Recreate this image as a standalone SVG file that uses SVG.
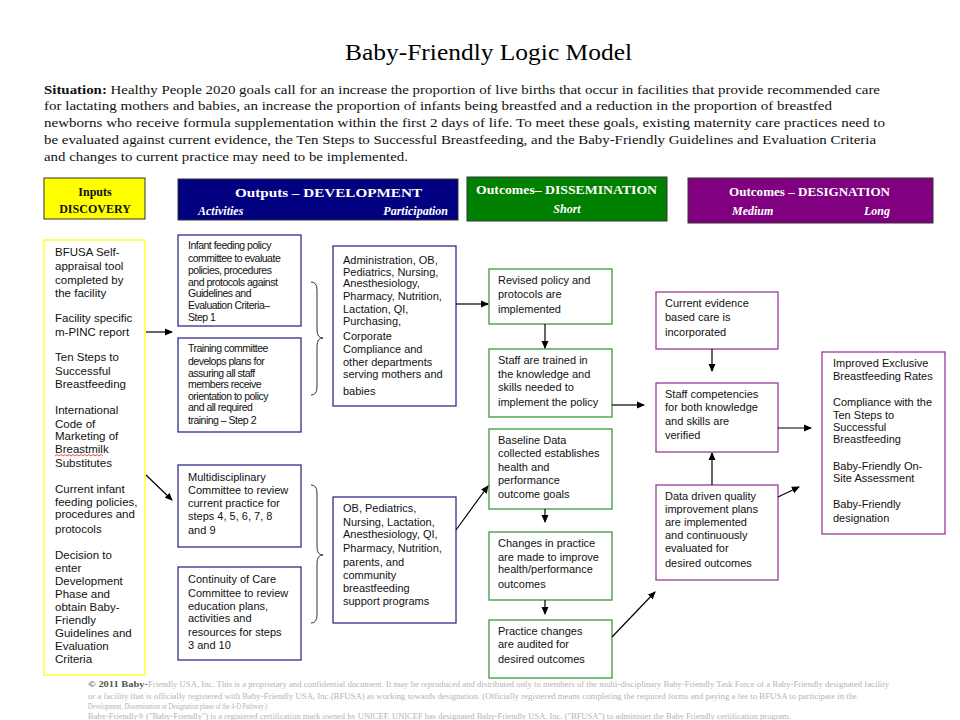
<svg xmlns="http://www.w3.org/2000/svg" width="960" height="720" viewBox="0 0 960 720">
<defs>
<marker id="ah" markerWidth="8" markerHeight="8" refX="7" refY="4" orient="auto" markerUnits="userSpaceOnUse">
<path d="M0,0.5 L8,4 L0,7.5 z" fill="#000"/>
</marker>
<style>
.t{font-family:"Liberation Sans",Arial,sans-serif;font-size:11px;fill:#111}
.tl{font-family:"Liberation Sans",Arial,sans-serif;font-size:11.5px;fill:#111}
.tc{font-family:"Liberation Sans",Arial,sans-serif;font-size:10.5px;letter-spacing:-0.5px;fill:#111}
.s{font-family:"Liberation Serif","Times New Roman",serif;font-size:12px;fill:#111}
.h{font-family:"Liberation Serif","Times New Roman",serif;font-size:12px;font-weight:bold;fill:#fff}
.hi{font-family:"Liberation Serif","Times New Roman",serif;font-size:12px;font-weight:bold;font-style:italic;fill:#fff}
.f{font-family:"Liberation Serif","Times New Roman",serif;font-size:7.5px;fill:#b4b4b4}
.bb{fill:#fff;stroke:#2e2e8c;stroke-width:1.3}
.gb{fill:#fff;stroke:#3a9a3a;stroke-width:1.3}
.pb{fill:#fff;stroke:#9a3a9a;stroke-width:1.3}
.con{stroke:#000;stroke-width:1.2;fill:none}
.br{stroke:#333;stroke-width:1;fill:none}
</style>
</defs>
<rect width="960" height="720" fill="#fff"/>

<g id="title">
<text x="345" y="60" font-family="Liberation Serif,'Times New Roman',serif" font-size="24" fill="#000" textLength="287" lengthAdjust="spacingAndGlyphs">Baby-Friendly Logic Model</text>
</g>

<g id="situation">
<text class="s" x="44" y="94" textLength="836" lengthAdjust="spacingAndGlyphs"><tspan font-weight="bold">Situation:</tspan>  Healthy People 2020 goals call for an increase the proportion of live births that occur in facilities that provide recommended care</text>
<text class="s" x="44" y="110" textLength="788" lengthAdjust="spacingAndGlyphs">for lactating mothers and babies, an increase the proportion of infants being breastfed and a reduction in the proportion of breastfed</text>
<text class="s" x="44" y="127" textLength="841" lengthAdjust="spacingAndGlyphs">newborns who receive formula supplementation within the first 2 days of life.  To meet these goals, existing maternity care practices need to</text>
<text class="s" x="44" y="144" textLength="832" lengthAdjust="spacingAndGlyphs">be evaluated against current evidence, the Ten Steps to Successful Breastfeeding, and the Baby-Friendly Guidelines and Evaluation Criteria</text>
<text class="s" x="44" y="161" textLength="364" lengthAdjust="spacingAndGlyphs">and changes to current practice may need to be implemented.</text>
</g>

<g id="hdr-inputs">
<rect x="44" y="178" width="101" height="41" fill="#ffff00" stroke="#333" stroke-width="1"/>
<text x="95" y="196" text-anchor="middle" font-family="Liberation Serif,serif" font-size="12" font-weight="bold" fill="#111">Inputs</text>
<text x="95" y="213" text-anchor="middle" font-family="Liberation Serif,serif" font-size="12" font-weight="bold" fill="#111">DISCOVERY</text>
</g>
<g id="hdr-outputs">
<rect x="178" y="179" width="280" height="41" fill="#000080" stroke="#333" stroke-width="1"/>
<text class="h" x="235" y="197" textLength="187" lengthAdjust="spacingAndGlyphs">Outputs – DEVELOPMENT</text>
<text class="hi" x="198" y="215">Activities</text>
<text class="hi" x="448" y="215" text-anchor="end">Participation</text>
</g>
<g id="hdr-short">
<rect x="467" y="177" width="200" height="44" fill="#008000" stroke="#333" stroke-width="1"/>
<text class="h" x="476" y="194" textLength="181" lengthAdjust="spacingAndGlyphs">Outcomes– DISSEMINATION</text>
<text class="hi" x="567" y="213" text-anchor="middle">Short</text>
</g>
<g id="hdr-designation">
<rect x="688" y="178" width="245" height="45" fill="#800080" stroke="#333" stroke-width="1"/>
<text class="h" x="729" y="196" textLength="161" lengthAdjust="spacingAndGlyphs">Outcomes – DESIGNATION</text>
<text class="hi" x="732" y="215">Medium</text>
<text class="hi" x="890" y="215" text-anchor="end">Long</text>
</g>

<g id="inputs">
<rect x="44" y="240" width="101" height="435" fill="#fff" stroke="#ffff33" stroke-width="1.5"/>
<text class="tl" x="55" y="256">BFUSA Self-</text>
<text class="tl" x="55" y="270">appraisal tool</text>
<text class="tl" x="55" y="283.5">completed by</text>
<text class="tl" x="55" y="297">the facility</text>
<text class="tl" x="55" y="322">Facility specific</text>
<text class="tl" x="55" y="336">m-PINC report</text>
<text class="tl" x="55" y="361">Ten  Steps to</text>
<text class="tl" x="55" y="375">Successful</text>
<text class="tl" x="55" y="388">Breastfeeding</text>
<text class="tl" x="55" y="414">International</text>
<text class="tl" x="55" y="428">Code of</text>
<text class="tl" x="55" y="440">Marketing of</text>
<text class="tl" x="55" y="453">Breastmilk</text>
<path d="M55,456 l2,-1.5 l2,1.5 l2,-1.5 l2,1.5 l2,-1.5 l2,1.5 l2,-1.5 l2,1.5 l2,-1.5 l2,1.5 l2,-1.5 l2,1.5 l2,-1.5 l2,1.5 l2,-1.5 l2,1.5 l2,-1.5 l2,1.5 l2,-1.5 l2,1.5 l2,-1.5 l2,1.5 l2,-1.5 l2,1.5" fill="none" stroke="#e02020" stroke-width="0.8"/>
<text class="tl" x="55" y="467">Substitutes</text>
<text class="tl" x="55" y="493">Current infant</text>
<text class="tl" x="55" y="506">feeding policies,</text>
<text class="tl" x="55" y="518">procedures and</text>
<text class="tl" x="55" y="533">protocols</text>
<text class="tl" x="55" y="559">Decision to</text>
<text class="tl" x="55" y="572">enter</text>
<text class="tl" x="55" y="585">Development</text>
<text class="tl" x="55" y="598">Phase and</text>
<text class="tl" x="55" y="611">obtain Baby-</text>
<text class="tl" x="55" y="624">Friendly</text>
<text class="tl" x="55" y="637">Guidelines and</text>
<text class="tl" x="55" y="650">Evaluation</text>
<text class="tl" x="55" y="663">Criteria</text>
</g>

<g id="act-policy">
<rect class="bb" x="178" y="235" width="123" height="91"/>
<text class="tc" x="188" y="249">Infant feeding policy</text>
<text class="tc" x="188" y="262">committee to evaluate</text>
<text class="tc" x="188" y="274">policies, procedures</text>
<text class="tc" x="188" y="286">and protocols against</text>
<text class="tc" x="188" y="297">Guidelines and</text>
<text class="tc" x="188" y="309">Evaluation Criteria–</text>
<text class="tc" x="188" y="321">Step 1</text>
</g>
<g id="act-training">
<rect class="bb" x="178" y="338" width="123" height="94"/>
<text class="tc" x="188" y="352">Training committee</text>
<text class="tc" x="188" y="365">develops plans for</text>
<text class="tc" x="188" y="377">assuring all staff</text>
<text class="tc" x="188" y="388">members receive</text>
<text class="tc" x="188" y="400">orientation to policy</text>
<text class="tc" x="188" y="411">and all required</text>
<text class="tc" x="188" y="424">training – Step 2</text>
</g>
<g id="act-multi">
<rect class="bb" x="178" y="465" width="123" height="82"/>
<text class="t" x="188" y="481">Multidisciplinary</text>
<text class="t" x="188" y="494">Committee to review</text>
<text class="t" x="188" y="507">current practice for</text>
<text class="t" x="188" y="520">steps 4, 5, 6, 7, 8</text>
<text class="t" x="188" y="534">and 9</text>
</g>
<g id="act-continuity">
<rect class="bb" x="178" y="567" width="123" height="93"/>
<text class="t" x="188" y="583">Continuity of Care</text>
<text class="t" x="188" y="597">Committee to review</text>
<text class="t" x="188" y="610">education plans,</text>
<text class="t" x="188" y="622">activities and</text>
<text class="t" x="188" y="636">resources for steps</text>
<text class="t" x="188" y="649">3 and 10</text>
</g>

<g id="part-1">
<rect class="bb" x="333" y="246" width="123" height="160"/>
<text class="t" x="343" y="264">Administration, OB,</text>
<text class="t" x="343" y="276">Pediatrics, Nursing,</text>
<text class="t" x="343" y="287">Anesthesiology,</text>
<text class="t" x="343" y="300">Pharmacy, Nutrition,</text>
<text class="t" x="343" y="313">Lactation, QI,</text>
<text class="t" x="343" y="325">Purchasing,</text>
<text class="t" x="343" y="340">Corporate</text>
<text class="t" x="343" y="353">Compliance and</text>
<text class="t" x="343" y="366">other departments</text>
<text class="t" x="343" y="378">serving mothers and</text>
<text class="t" x="343" y="395">babies</text>
</g>
<g id="part-2">
<rect class="bb" x="333" y="497" width="123" height="126"/>
<text class="t" x="343" y="512">OB, Pediatrics,</text>
<text class="t" x="343" y="526">Nursing, Lactation,</text>
<text class="t" x="343" y="538">Anesthesiology, QI,</text>
<text class="t" x="343" y="552">Pharmacy, Nutrition,</text>
<text class="t" x="343" y="566">parents, and</text>
<text class="t" x="343" y="579">community</text>
<text class="t" x="343" y="592">breastfeeding</text>
<text class="t" x="343" y="605">support programs</text>
</g>

<g id="short-revised">
<rect class="gb" x="489" y="269" width="123" height="55"/>
<text class="t" x="498" y="284">Revised policy and</text>
<text class="t" x="498" y="298">protocols are</text>
<text class="t" x="498" y="313">implemented</text>
</g>
<g id="short-trained">
<rect class="gb" x="489" y="349" width="123" height="68"/>
<text class="t" x="498" y="364">Staff are trained in</text>
<text class="t" x="498" y="378">the knowledge and</text>
<text class="t" x="498" y="391">skills needed to</text>
<text class="t" x="498" y="406">implement the policy</text>
</g>
<g id="short-baseline">
<rect class="gb" x="489" y="429" width="123" height="80"/>
<text class="t" x="498" y="444">Baseline Data</text>
<text class="t" x="498" y="457">collected establishes</text>
<text class="t" x="498" y="471">health and</text>
<text class="t" x="498" y="484">performance</text>
<text class="t" x="498" y="498">outcome goals</text>
</g>
<g id="short-changes">
<rect class="gb" x="489" y="532" width="123" height="68"/>
<text class="t" x="498" y="547">Changes in practice</text>
<text class="t" x="498" y="561">are made to improve</text>
<text class="t" x="498" y="573">health/performance</text>
<text class="t" x="498" y="588">outcomes</text>
</g>
<g id="short-audited">
<rect class="gb" x="489" y="620" width="123" height="58"/>
<text class="t" x="498" y="635">Practice changes</text>
<text class="t" x="498" y="648">are audited for</text>
<text class="t" x="498" y="663">desired outcomes</text>
</g>

<g id="med-evidence">
<rect class="pb" x="656" y="292" width="122" height="57"/>
<text class="t" x="665" y="307">Current evidence</text>
<text class="t" x="665" y="321">based care is</text>
<text class="t" x="665" y="336">incorporated</text>
</g>
<g id="med-competencies">
<rect class="pb" x="656" y="383" width="122" height="69"/>
<text class="t" x="665" y="398">Staff competencies</text>
<text class="t" x="665" y="411">for both knowledge</text>
<text class="t" x="665" y="425">and skills are</text>
<text class="t" x="665" y="439">verified</text>
</g>
<g id="med-quality">
<rect class="pb" x="656" y="485" width="122" height="95"/>
<text class="t" x="665" y="500">Data driven quality</text>
<text class="t" x="665" y="513">improvement plans</text>
<text class="t" x="665" y="526">are implemented</text>
<text class="t" x="665" y="539">and continuously</text>
<text class="t" x="665" y="552">evaluated for</text>
<text class="t" x="665" y="567">desired outcomes</text>
</g>

<g id="long-results">
<rect class="pb" x="822" y="352" width="123" height="182"/>
<text class="t" x="833" y="367">Improved Exclusive</text>
<text class="t" x="833" y="380">Breastfeeding Rates</text>
<text class="t" x="833" y="406">Compliance with the</text>
<text class="t" x="833" y="419">Ten  Steps to</text>
<text class="t" x="833" y="431">Successful</text>
<text class="t" x="833" y="443">Breastfeeding</text>
<text class="t" x="833" y="470">Baby-Friendly On-</text>
<text class="t" x="833" y="482">Site Assessment</text>
<text class="t" x="833" y="508">Baby-Friendly</text>
<text class="t" x="833" y="522">designation</text>
</g>

<g id="connectors">
<path class="br" d="M311,282 Q317,282 317,290 L317,330 Q317,338 323,338 Q317,338 317,346 L317,387 Q317,395 311,395"/>
<path class="br" d="M311,485 Q317,485 317,493 L317,547 Q317,555 323,555 Q317,555 317,563 L317,615 Q317,623 311,623"/>
<path class="con" d="M146,332 L172,332" marker-end="url(#ah)"/>
<path class="con" d="M146,475 L172,500" marker-end="url(#ah)"/>
<path class="con" d="M456,304 L488,304" marker-end="url(#ah)"/>
<path class="con" d="M545,324 L545,348" marker-end="url(#ah)"/>
<path class="con" d="M612,405 L644,405" marker-end="url(#ah)"/>
<path class="con" d="M456,530 L488,486" marker-end="url(#ah)"/>
<path class="con" d="M545,509 L545,522" marker-end="url(#ah)"/>
<path class="con" d="M545,600 L545,614" marker-end="url(#ah)"/>
<path class="con" d="M612,637 L655,592" marker-end="url(#ah)"/>
<path class="con" d="M712,349 L712,371" marker-end="url(#ah)"/>
<path class="con" d="M712,485 L712,453" marker-end="url(#ah)"/>
<path class="con" d="M778,428 L811,428" marker-end="url(#ah)"/>
<path class="con" d="M778,497 L799,487" marker-end="url(#ah)"/>
</g>

<g id="footer">
<text class="f" x="88" y="687" textLength="801" lengthAdjust="spacingAndGlyphs"><tspan fill="#555" font-weight="bold" font-size="9">© 2011 Baby-</tspan>Friendly USA, Inc. This is a proprietary and confidential document.  It may be reproduced and distributed only to members of the multi-disciplinary Baby-Friendly Task Force of a Baby-Friendly designated facility</text>
<text class="f" x="88" y="699" textLength="769" lengthAdjust="spacingAndGlyphs">or a facility that is officially registered with Baby-Friendly USA, Inc.(BFUSA) as working towards designation.  (Officially registered means completing the required forms and paying a fee to BFUSA to participate in the</text>
<text class="f" x="88" y="709" textLength="179" lengthAdjust="spacingAndGlyphs">Development, Dissemination or Designation phase of the 4-D Pathway.)</text>
<text class="f" x="88" y="719" textLength="703" lengthAdjust="spacingAndGlyphs">Baby-Friendly® ("Baby-Friendly") is a registered certification mark owned by UNICEF. UNICEF has designated Baby-Friendly USA, Inc. ("BFUSA") to administer the Baby Friendly certification program.</text>
</g>
</svg>
